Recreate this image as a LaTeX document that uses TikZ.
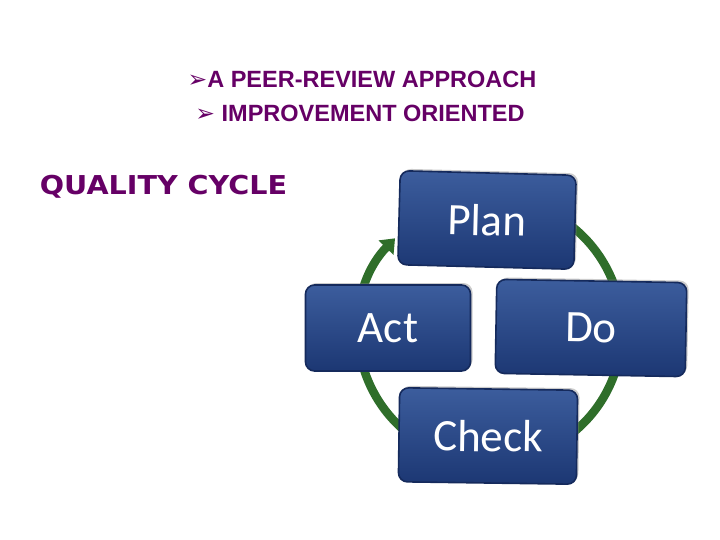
\documentclass[tikz,border=0pt]{standalone}
\usepackage{fontspec}
\setmainfont{Liberation Sans}
\newfontfamily\boxfont{Carlito}
\newfontfamily\symfont{DejaVu Sans}
\newfontfamily\quafont{DejaVu Sans}
\usetikzlibrary{shadows,arrows.meta,calc}
\definecolor{purp}{HTML}{660066}
\definecolor{boxtop}{HTML}{3C5D9D}
\definecolor{boxbot}{HTML}{1C3773}
\definecolor{boxedge}{HTML}{152A5C}
\definecolor{ring}{HTML}{2F6E2A}
\tikzset{
  pdca/.style={draw=boxedge, line width=1.6pt, rounded corners=9pt,
    top color=boxtop, bottom color=boxbot, text=white,
    font=\boxfont\fontsize{45}{50}\selectfont,
    drop shadow={shadow xshift=2pt, shadow yshift=2pt, opacity=0.4},
    inner sep=0pt},
  headline/.style={text=purp, font=\bfseries\fontsize{23.5}{27}\selectfont, anchor=base},
}
\begin{document}
\begin{tikzpicture}[x=1pt,y=-1pt]
\useasboundingbox (0,0) rectangle (720,540);
\fill[white] (0,0) rectangle (720,540);
\node[headline] (t1) at (362,88) {{\symfont ➢}A PEER-REVIEW APPROACH};
\node[headline] (t2) at (360,122) {{\symfont ➢} IMPROVEMENT ORIENTED};
\node[text=purp, font=\quafont\bfseries\fontsize{26}{30}\selectfont, anchor=base west, xscale=1.1] (qc) at (36,195) {QUALITY CYCLE};
% ring
\coordinate (c) at (490,330);
\draw[ring, line width=8.5pt, -{Triangle[width=20pt,length=13pt]}]
  ($(c)+(-120:132)$) arc[start angle=-120, end angle=224, radius=132];
% boxes
\node[pdca, minimum width=176pt, minimum height=94pt, rotate=-1.5] (plan) at (487,220) {Plan};
\node[pdca, minimum width=165pt, minimum height=86pt] (act) at (388,328) {Act};
\node[pdca, minimum width=190pt, minimum height=94pt, rotate=-1] (do) at (591,328) {Do};
\node[pdca, minimum width=178pt, minimum height=94pt, rotate=-0.8] (check) at (488,436) {Check};
\end{tikzpicture}
\end{document}
